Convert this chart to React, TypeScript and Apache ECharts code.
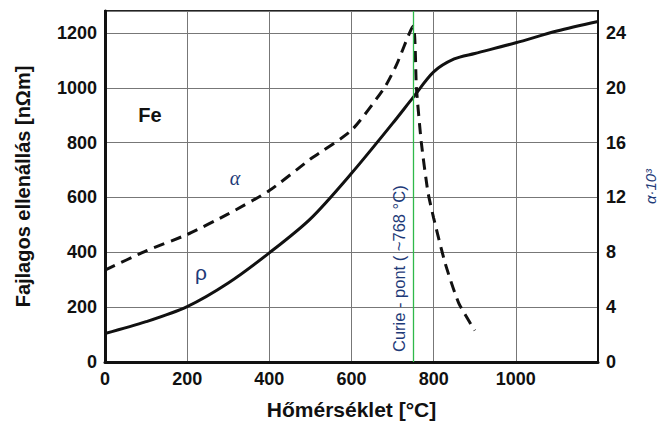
import React, { useEffect, useRef } from "react";
import * as echarts from "echarts";

// Resistivity of iron ρ [nΩm] vs temperature [°C]
const rhoTemps = [0, 100, 200, 300, 400, 500, 600, 700, 750, 800, 850, 900, 1000, 1100, 1200];
const rhoValues = [104, 147, 202, 288, 398, 522, 688, 870, 965, 1058, 1105, 1125, 1164, 1207, 1242];

// Temperature coefficient α·10³ vs temperature [°C]
const alphaTemps = [0, 100, 200, 300, 400, 500, 600, 680, 710, 750, 758, 770, 786, 800, 828, 861, 900];
const alphaValues = [6.7, 8.1, 9.3, 10.8, 12.5, 14.8, 16.9, 20, 21.7, 24.5, 20, 16, 12.4, 10.5, 7.2, 4.3, 2.3];

const curieTemp = 750;
const curieLabel = "Curie - pont ( ~768 °C)";

const FONT = "'Liberation Sans', Arial, sans-serif";
const NAVY = "#1e3a78";

export default function App() {
  const ref = useRef<HTMLDivElement>(null);

  useEffect(() => {
    const chart = echarts.init(ref.current!, null, { renderer: "svg" });
    const labelStyle = {
      fontFamily: FONT,
      fontWeight: "bold" as const,
      fontSize: 18,
      color: "#111",
      formatter: (v: number) => String(v),
    };
    chart.setOption({
      animation: false,
      backgroundColor: "#fff",
      grid: {
        left: 105,
        right: 62,
        top: 11,
        bottom: 61,
        show: true,
        borderColor: "#222",
        borderWidth: 2,
        backgroundColor: "transparent",
        containLabel: false,
        outerBoundsMode: "none",
      },
      xAxis: {
        type: "value",
        min: 0,
        max: 1200,
        interval: 200,
        name: "Hőmérséklet [°C]",
        nameLocation: "middle",
        nameGap: 37,
        nameTextStyle: { fontFamily: FONT, fontWeight: "bold", fontSize: 21, color: "#111" },
        axisLine: { show: true, lineStyle: { color: "#111", width: 3 } },
        axisTick: { show: false },
        axisLabel: { ...labelStyle, margin: 8, showMaxLabel: false },
        splitLine: { show: true, lineStyle: { color: "#777", width: 1 } },
      },
      yAxis: [
        {
          type: "value",
          min: 0,
          max: 1280,
          interval: 200,
          name: "Fajlagos ellenállás [nΩm]",
          nameLocation: "middle",
          nameGap: 72,
          nameRotate: 90,
          nameTextStyle: { fontFamily: FONT, fontWeight: "bold", fontSize: 20, color: "#111" },
          axisLine: { show: true, lineStyle: { color: "#111", width: 3 } },
          axisTick: { show: false },
          axisLabel: { ...labelStyle, margin: 8, showMaxLabel: false },
          splitLine: { show: true, lineStyle: { color: "#777", width: 1 } },
        },
        {
          type: "value",
          min: 0,
          max: 25.6,
          interval: 4,
          position: "right",
          name: "α·10³",
          nameLocation: "middle",
          nameGap: 45,
          nameRotate: 90,
          nameTextStyle: { fontFamily: FONT, fontStyle: "italic", fontSize: 15, color: NAVY },
          axisLine: { show: true, lineStyle: { color: "#111", width: 2 } },
          axisTick: { show: false },
          axisLabel: { ...labelStyle, margin: 8, showMaxLabel: false },
          splitLine: { show: false },
        },
      ],
      series: [
        {
          name: "ρ",
          type: "line",
          yAxisIndex: 0,
          data: rhoTemps.map((t, i) => [t, rhoValues[i]]),
          smooth: 0.3,
          symbol: "none",
          lineStyle: { color: "#111", width: 3 },
          z: 3,
          markLine: {
            silent: true,
            symbol: "none",
            z: 4,
            lineStyle: { color: "#2fb84a", width: 1.3, type: "solid" },
            data: [{ xAxis: curieTemp }],
            label: {
              show: true,
              formatter: curieLabel,
              position: "insideStartTop",
              distance: 6,
              padding: [0, 0, 0, 4],
              fontFamily: FONT,
              fontSize: 16.5,
              color: NAVY,
            },
          },
        },
        {
          name: "α",
          type: "line",
          yAxisIndex: 1,
          data: alphaTemps.map((t, i) => [t, alphaValues[i]]),
          smooth: 0.2,
          symbol: "none",
          lineStyle: { color: "#111", width: 3, type: [11, 7] },
          z: 3,
        },
      ],
      graphic: [
        {
          type: "text",
          x: 150,
          y: 115,
          style: {
            text: "Fe",
            fontFamily: FONT,
            fontWeight: "bold",
            fontSize: 20,
            fill: "#111",
            align: "center",
            verticalAlign: "middle",
          },
        },
        {
          type: "text",
          x: 235,
          y: 178,
          style: {
            text: "α",
            fontFamily: "'Liberation Serif', serif",
            fontStyle: "italic",
            fontSize: 20,
            fill: NAVY,
            align: "center",
            verticalAlign: "middle",
          },
        },
        {
          type: "text",
          x: 201,
          y: 272,
          style: {
            text: "ρ",
            fontFamily: FONT,
            fontSize: 21,
            fill: NAVY,
            align: "center",
            verticalAlign: "middle",
          },
        },
      ],
    });
    return () => chart.dispose();
  }, []);

  return (
    <div
      ref={ref}
      style={{ position: "absolute", left: 0, top: 0, width: 660, height: 423, background: "#fff" }}
    />
  );
}
